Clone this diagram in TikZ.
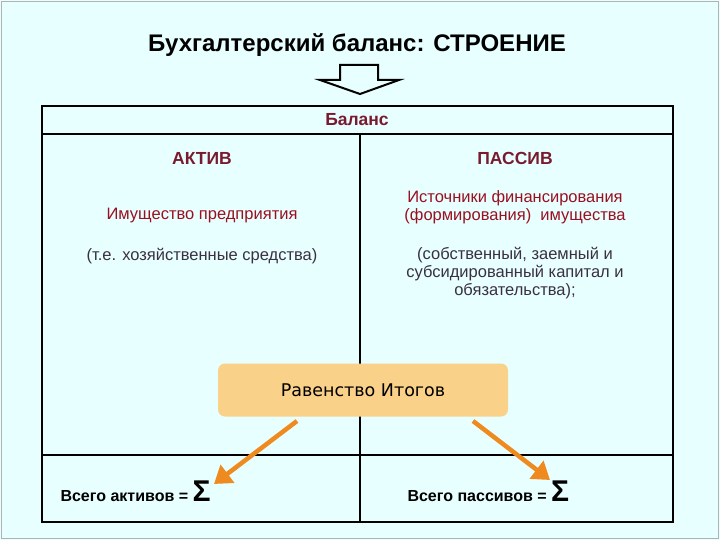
\documentclass[tikz,border=0pt]{standalone}
\usepackage{fontspec}
\setmainfont{Liberation Sans}
\newfontfamily\verd{DejaVu Sans}
\usetikzlibrary{arrows.meta}
\definecolor{bgc}{HTML}{E8FFFF}
\definecolor{maroon}{HTML}{7A1A2E}
\definecolor{redt}{HTML}{9A1020}
\definecolor{grayt}{HTML}{3A3040}
\definecolor{orng}{HTML}{EE8A1E}
\definecolor{boxc}{HTML}{FAD189}
\begin{document}
\begin{tikzpicture}[x=1pt,y=-1pt,
  tline/.style={line width=2pt,black},
  hd/.style={font=\bfseries\fontsize{17.5}{20}\selectfont,text=maroon},
  rt/.style={font=\fontsize{16.5}{18}\selectfont,text=redt,align=center},
  gt/.style={font=\fontsize{16.5}{18}\selectfont,text=grayt,align=center},
  oarrow/.style={orng,line width=4.5pt,-{Triangle[length=17pt,width=22pt]}},
  tot/.style={font=\bfseries\fontsize{16}{18}\selectfont,anchor=base west}]
\useasboundingbox (0,0) rectangle (720,540);
\fill[bgc] (0,0) rectangle (720,540);
\draw[gray!60,line width=1pt] (1.5,1.5) rectangle (718.5,538.5);
% title
\node[font=\bfseries\fontsize{24}{28}\selectfont] (title) at (357,45) {Бухгалтерский баланс: СТРОЕНИЕ};
% hollow arrow
\draw[line width=2pt,fill=bgc,line join=miter] (340,65) -- (378,65) -- (378,80) -- (399,80) -- (360,94) -- (320,80) -- (340,80) -- cycle;
% table
\draw[tline] (42,106) rectangle (673,522);
\draw[tline] (42,134) -- (673,134);
\draw[tline] (360,134) -- (360,522);
\draw[tline] (42,455) -- (673,455);
\node[hd] (bal) at (357,120) {Баланс};
\node[hd] (akt) at (202,158) {АКТИВ};
\node[hd] (pas) at (515,158) {ПАССИВ};
\node[rt] (im) at (202,216) {Имущество предприятия};
\node[rt] (ist) at (515,207) {Источники финансирования\\(формирования)\ \ имущества};
\node[gt] (te) at (202,256) {(т.е. хозяйственные средства)};
\node[gt] (sob) at (515,273) {(собственный, заемный и\\субсидированный капитал и\\обязательства);};
% central box
\node[fill=boxc,rounded corners=7pt,minimum width=290pt,minimum height=53pt,font=\verd\fontsize{17.5}{20}\selectfont] (rav) at (363,390) {Равенство Итогов};
\coordinate (la) at (297,421);
\coordinate (lt) at (214,484);
\coordinate (ra) at (473,421);
\coordinate (rtp) at (550,480);
\draw[oarrow] (la) -- (lt);
\draw[oarrow] (ra) -- (rtp);
% totals
\node[tot] (ta) at (57,501) {Всего активов = {\fontsize{30}{30}\selectfont Σ}};
\node[tot] (tp) at (404,501) {Всего пассивов = {\fontsize{30}{30}\selectfont Σ}};
\end{tikzpicture}
\end{document}
